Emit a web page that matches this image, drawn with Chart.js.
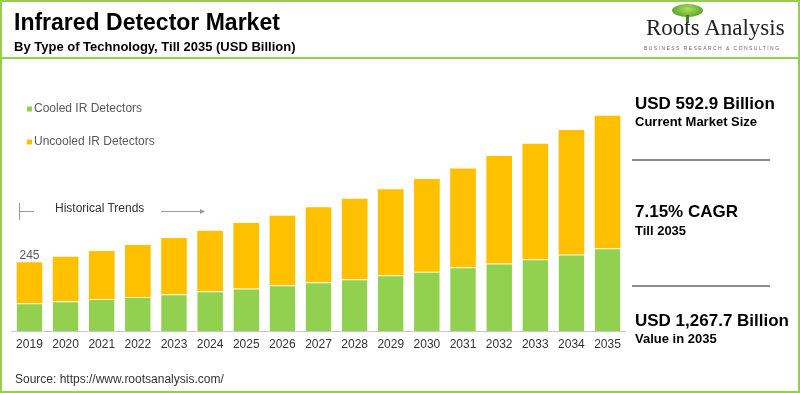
<!DOCTYPE html>
<html>
<head>
<meta charset="utf-8">
<script src="https://cdn.jsdelivr.net/npm/chart.js@4.4.1/dist/chart.umd.min.js"></script>
<style>
  html, body { margin: 0; padding: 0; background: #fff; }
  body { width: 800px; height: 393px; position: relative; overflow: hidden; font-family: "Liberation Sans", Arial, sans-serif; }
  #frame { position: absolute; left: 0; top: 0; width: 796px; height: 389px; border: 2px solid #92d050; }
  #titleLine { position: absolute; left: 0; top: 57px; width: 800px; height: 2px; background: #92d050; }
  .abs { position: absolute; white-space: nowrap; }
  #title { left: 14px; top: 9px; font-size: 23px; font-weight: bold; color: #000; }
  #subtitle { left: 14px; top: 39px; font-size: 13px; font-weight: bold; color: #000; }
  #logo { left: 646px; top: 15px; font-family: "Liberation Serif", "Times New Roman", serif; font-size: 23px; color: #222; }
  #tag { left: 644px; top: 45px; font-size: 5px; letter-spacing: 1.45px; color: #666; }
  #tree { left: 672px; top: 4px; width: 31px; height: 13px; border-radius: 50%; background: radial-gradient(ellipse at 50% 40%, #b5dd5a, #5fa832 70%, #3f8a2a); }
  #trunk { left: 686px; top: 15px; width: 3px; height: 8px; background: #4d7a2c; }
  #chart { position: absolute; left: 0; top: 0; }
  .big { font-size: 17px; font-weight: bold; color: #000; left: 635px; }
  .small { font-size: 13px; font-weight: bold; color: #000; left: 635px; }
  .sep { position: absolute; left: 632px; width: 138px; height: 2px; background: #8c8c8c; }
  #source { left: 15px; top: 372px; font-size: 12px; color: #333; }
  #hist { left: 55px; top: 201px; font-size: 12px; color: #333; }
</style>
</head>
<body>
<canvas id="chart" width="800" height="393"></canvas>
<div id="frame"></div>
<div id="titleLine"></div>
<div class="abs" id="title">Infrared Detector Market</div>
<div class="abs" id="subtitle">By Type of Technology, Till 2035 (USD Billion)</div>
<div class="abs" id="tree"></div>
<div class="abs" id="trunk"></div>
<div class="abs" id="logo">Roots Analysis</div>
<div class="abs" id="tag">BUSINESS RESEARCH &amp; CONSULTING</div>

<div class="abs big" style="top:94px">USD 592.9 Billion</div>
<div class="abs small" style="top:114px">Current Market Size</div>
<div class="sep" style="top:159px"></div>
<div class="abs big" style="top:202px">7.15% CAGR</div>
<div class="abs small" style="top:223px">Till 2035</div>
<div class="sep" style="top:285px"></div>
<div class="abs big" style="top:311px">USD 1,267.7 Billion</div>
<div class="abs small" style="top:331px">Value in 2035</div>

<div class="abs" id="hist">Historical Trends</div>
<svg class="abs" style="left:0;top:0" width="800" height="393">
  <line x1="19.5" y1="203" x2="19.5" y2="220" stroke="#999" stroke-width="1"/>
  <line x1="19.5" y1="211.5" x2="34" y2="211.5" stroke="#999" stroke-width="1"/>
  <line x1="161" y1="211.5" x2="204" y2="211.5" stroke="#999" stroke-width="1"/>
  <path d="M200 209 L205 211.5 L200 214 Z" fill="#999"/>
</svg>
<div class="abs" id="source">Source: https://www.rootsanalysis.com/</div>

<script>
// years on the x axis
var years = ['2019', '2020', '2021', '2022', '2023', '2024', '2025', '2026', '2027',
             '2028', '2029', '2030', '2031', '2032', '2033', '2034', '2035'];
// bar heights (same units as the "245" label on 2019)
var cooled   = [99, 106, 114, 121, 131, 142, 152, 163, 174, 185, 199, 211, 227, 241, 256, 273, 295];
var uncooled = [146, 159, 171, 186, 201, 216, 233, 248, 267, 287, 307, 331, 353, 383, 412, 444, 473];
var seriesNames = ['Cooled IR Detectors', 'Uncooled IR Detectors'];
var seriesColors = ['#92d050', '#ffc000'];

// legend drawn on the left like the original, plus the value label on the first bar
var extrasPlugin = {
  id: 'extras',
  afterDraw: function(chart) {
    var ctx = chart.ctx;
    ctx.save();
    ctx.font = '12px "Liberation Sans", Arial, sans-serif';
    ctx.textBaseline = 'middle';
    var legendY = [109, 142];
    chart.data.datasets.forEach(function(ds, i) {
      ctx.fillStyle = ds.backgroundColor;
      ctx.fillRect(27, legendY[i] - 2.5, 5, 5);
      ctx.fillStyle = '#595959';
      ctx.textAlign = 'left';
      ctx.fillText(ds.label, 34, legendY[i]);
    });
    // total on top of the first bar
    var meta = chart.getDatasetMeta(1);
    var bar = meta.data[0];
    var total = cooled[0] + uncooled[0];
    ctx.fillStyle = '#595959';
    ctx.textAlign = 'center';
    ctx.textBaseline = 'bottom';
    ctx.fillText(String(total), bar.x, bar.y - 1);
    ctx.restore();
  }
};

var ctx = document.getElementById('chart').getContext('2d');
window.myBar = new Chart(ctx, {
  type: 'bar',
  data: {
    labels: years,
    datasets: [{
      label: seriesNames[0],
      data: cooled,
      backgroundColor: seriesColors[0],
      borderColor: '#f3f0b8',
      borderWidth: { top: 1, left: 0, right: 0, bottom: 0 },
      borderSkipped: false
    }, {
      label: seriesNames[1],
      data: uncooled,
      backgroundColor: seriesColors[1],
      borderWidth: 0
    }]
  },
  options: {
    responsive: false,
    animation: false,
    layout: { padding: { left: 11.4, right: 174.4, top: 106.7, bottom: 42 } },
    plugins: {
      legend: { display: false },
      tooltip: { enabled: false }
    },
    datasets: { bar: { barPercentage: 0.71, categoryPercentage: 1 } },
    scales: {
      x: {
        stacked: true,
        grid: { display: false, drawTicks: false },
        border: { display: true, color: '#c8c8c8', width: 1 },
        ticks: {
          color: '#333',
          font: { family: '"Liberation Sans", Arial, sans-serif', size: 12 },
          padding: 6,
          maxRotation: 0,
          autoSkip: false
        },
        afterFit: function(scale) { scale.height = 20; }
      },
      y: {
        stacked: true,
        display: false,
        min: 0,
        max: 800
      }
    }
  },
  plugins: [extrasPlugin]
});
</script>
</body>
</html>
